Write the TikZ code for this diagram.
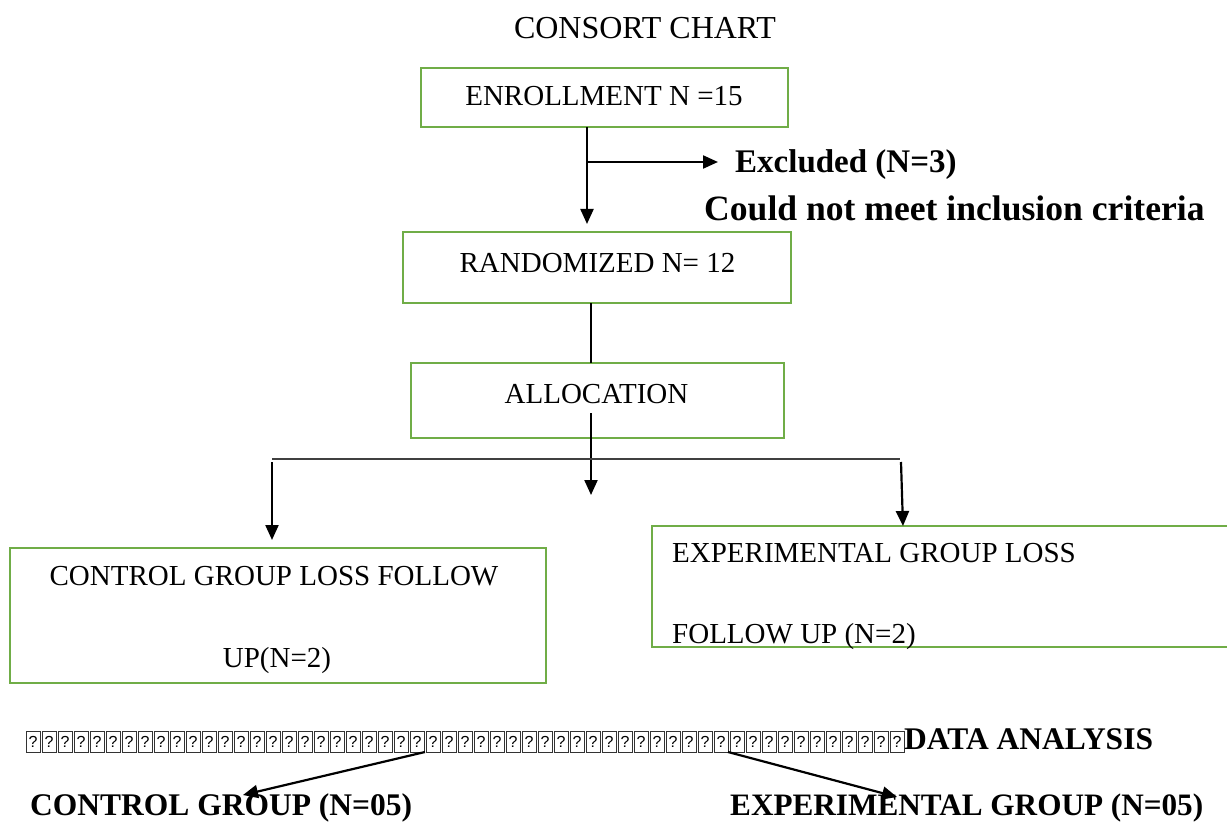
\documentclass[tikz,border=0pt]{standalone}
\usepackage{fontspec}
\setmainfont{Liberation Serif}
\newfontfamily\qfont{Liberation Sans}
\usetikzlibrary{arrows.meta}
\definecolor{boxgreen}{HTML}{70AD47}
\begin{document}
\begin{tikzpicture}[x=1pt,y=-1pt,
  gbox/.style={draw=boxgreen,line width=2.5pt,inner sep=0pt,outer sep=0pt,anchor=north west},
  btxt/.style={font=\fontsize{29}{34}\selectfont,inner sep=0pt,anchor=base},
  ltxt/.style={font=\fontsize{29}{34}\selectfont,inner sep=0pt,anchor=base west},
  bld/.style={inner sep=0pt,anchor=base west},
  arr/.style={line width=2.2pt,-{Triangle[length=15pt,width=13pt]}},
  ln/.style={line width=2.2pt},
  thinln/.style={line width=1.3pt,draw=black!75},
  qbox/.style={draw=black!80,line width=1pt,minimum width=14pt,minimum height=21pt,inner sep=0pt,anchor=north west,font=\qfont\fontsize{16}{16}\selectfont}]
\useasboundingbox (0,0) rectangle (1227,824);

% title
\node[inner sep=0pt,anchor=base,font=\fontsize{32}{38}\selectfont] (title) at (645,39) {CONSORT CHART};

% boxes
\node[gbox,minimum width=367pt,minimum height=59pt] (enr) at (421,68) {};
\node[gbox,minimum width=388pt,minimum height=71pt] (rnd) at (403,232) {};
\node[gbox,minimum width=373pt,minimum height=75pt] (alc) at (411,363) {};
\node[gbox,minimum width=536pt,minimum height=135pt] (ctl) at (10,548) {};
\node[gbox,minimum width=590pt,minimum height=121pt] (exb) at (652,526) {};

% box texts
\node[btxt] (enrT) at (604,106) {ENROLLMENT N =15};
\node[btxt] (rndT) at (597.5,272) {RANDOMIZED N= 12};
\node[btxt] (alcT) at (596.5,403) {ALLOCATION};
\node[btxt] (ctlA) at (274,585) {CONTROL GROUP LOSS FOLLOW};
\node[btxt] (ctlB) at (277,667) {UP(N=2)};
\node[ltxt] (expA) at (672,562) {EXPERIMENTAL GROUP LOSS};
\node[ltxt] (expB) at (672,643) {FOLLOW UP (N=2)};

% bold texts
\node[bld,font=\bfseries\fontsize{33}{38}\selectfont] (exc) at (735,173) {Excluded (N=3)};
\node[bld,font=\bfseries\fontsize{35.6}{40}\selectfont] (could) at (704,220) {Could not meet inclusion criteria};
\node[bld,font=\bfseries\fontsize{31.5}{36}\selectfont] (data) at (904,749) {DATA ANALYSIS};
\node[bld,font=\bfseries\fontsize{31.5}{36}\selectfont] (cg) at (30,815) {CONTROL GROUP (N=05)};
\node[bld,font=\bfseries\fontsize{31.2}{36}\selectfont] (eg) at (730,815) {EXPERIMENTAL GROUP (N=05)};

% missing-glyph boxes
\foreach \i in {0,...,54} {
  \node[qbox] (q\i) at ({25.5+16*\i},730.5) {?};
}

% coordinates
\coordinate (a1) at (587,224);
\coordinate (b0) at (587,162);
\coordinate (b1) at (718,162);
\coordinate (c1) at (591,0);
\coordinate (d0) at (591,413);
\coordinate (d1) at (591,495);
\coordinate (hl) at (272,459);
\coordinate (hr) at (900,459);
\coordinate (l0) at (272,462);
\coordinate (l1) at (272,540);
\coordinate (r0) at (901,462);
\coordinate (r1) at (903,526);
\coordinate (p0) at (425,752);
\coordinate (p1) at (243,795);
\coordinate (s0) at (728,752);
\coordinate (s1) at (897,797);

% connectors
\draw[arr] (enr.south -| a1) -- (a1);
\draw[arr] (b0) -- (b1);
\draw[ln] (rnd.south -| c1) -- (alc.north -| c1);
\draw[arr] (d0) -- (d1);
\draw[thinln] (hl) -- (hr);
\draw[arr] (l0) -- (l1);
\draw[arr] (r0) -- (r1);
\draw[arr] (p0) -- (p1);
\draw[arr] (s0) -- (s1);
\end{tikzpicture}
\end{document}
